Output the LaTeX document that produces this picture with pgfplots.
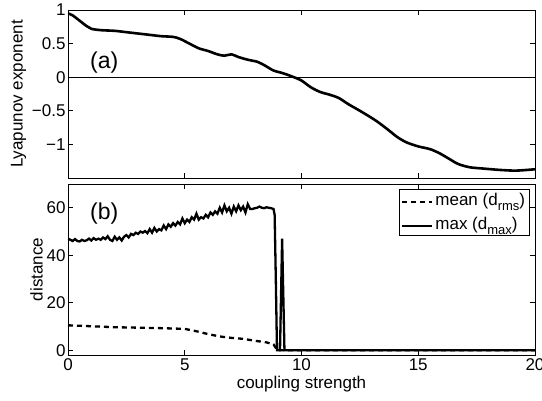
\documentclass[border=0pt]{standalone}
\usepackage{fontspec}
\setmainfont{Liberation Sans}
\usepackage{pgfplots}
\pgfplotsset{compat=1.18}

\pgfplotsset{
  panel/.style={
    scale only axis, width=467pt,
    xmin=0, xmax=20, xtick={0,5,10,15,20},
    tick align=inside, major tick length=5pt,
    axis line style={line width=0.9pt}, tick style={line width=0.6pt, black},
    tick label style={font=\fontsize{17}{19}\selectfont},
    label style={font=\fontsize{17}{19}\selectfont},
    /pgf/number format/assume math mode=true,
  },
}

\begin{document}
\begin{tikzpicture}
\useasboundingbox (-68pt,10pt) rectangle (474pt,-391pt);
\begin{axis}[panel, name=top, at={(0,0)}, anchor=north west,
  height=168pt, ymin=-1.5, ymax=1,
  xticklabels={},
  ytick={-1,-0.5,0,0.5,1},
  yticklabels={−1,−0.5,0,0.5,1},
  yticklabel style={xshift=1pt},
  ylabel={Lyapunov exponent},
  ylabel style={yshift=-1pt},
]
\addplot[black, line width=0.6pt] coordinates {(0,0)(20,0)};
\addplot[black, line width=2.6pt, smooth] coordinates {
(0,0.95)(0.2,0.92)(0.5,0.84)(0.8,0.76)(1.0,0.72)(1.4,0.70)(2.0,0.69)(2.5,0.67)
(3.0,0.65)(3.5,0.63)(4.0,0.61)(4.5,0.60)(4.8,0.57)(5.2,0.50)(5.6,0.43)(6.0,0.39)
(6.4,0.34)(6.7,0.32)(7.0,0.34)(7.3,0.30)(7.7,0.26)(8.1,0.23)(8.4,0.18)(8.8,0.10)
(9.2,0.06)(9.6,0.01)(10.0,-0.05)(10.4,-0.15)(10.8,-0.22)(11.2,-0.26)(11.6,-0.31)
(12.0,-0.40)(12.6,-0.52)(13.2,-0.65)(13.7,-0.78)(14.1,-0.89)(14.5,-0.97)(15.0,-1.03)
(15.5,-1.07)(15.9,-1.13)(16.3,-1.21)(16.7,-1.29)(17.2,-1.34)(17.8,-1.36)(18.5,-1.38)
(19.2,-1.39)(20,-1.37)};
\node[font=\fontsize{23}{25}\selectfont] at (axis cs:1.55,0.22) {(a)};
\end{axis}
\begin{axis}[panel, name=bot, at={(top.south west)}, anchor=north west, yshift=-6pt,
  height=171pt, ymin=-2, ymax=70,
  ytick={0,20,40,60},
  yticklabel style={xshift=1pt},
  xlabel={coupling strength}, ylabel={distance},
  xlabel style={yshift=1pt},
  ylabel style={yshift=-3pt},
  legend style={at={(0.988,0.97)}, anchor=north east, draw=black, line width=0.6pt,
    font=\fontsize{17}{19}\selectfont, inner sep=2pt, row sep=6pt},
  legend cell align=left,
  legend image code/.code={\draw[#1] (0pt,-2pt) -- (30pt,-2pt);},
]
\addplot[black, line width=2.3pt, dash pattern=on 5pt off 4pt] coordinates {
(0,10.5)(1,10.1)(2,9.7)(3,9.5)(4,9.3)(5,9.0)(5.5,8.0)(6,6.8)(6.5,5.8)(7,5.2)
(7.5,4.8)(8,4.0)(8.5,3.3)(8.8,2.5)(8.9,1)(8.95,0)(20,0)};
\addlegendentry{mean (d\raisebox{-0.5ex}{\fontsize{13}{14}\selectfont rms})}
\addplot[black, line width=2.3pt] coordinates {
(0.0,47)(0.1,46.5)(0.2,46)(0.3,46.8)(0.4,46)(0.5,45.8)(0.6,46.5)(0.7,46)(0.8,46.3)(0.9,47)
(1.0,46.2)(1.1,47.2)(1.2,46.5)(1.3,47)(1.4,46.5)(1.5,47.5)(1.6,46.8)(1.7,48)(1.8,46.5)(1.9,46)
(2.0,47.8)(2.1,46.5)(2.2,47.5)(2.3,46.2)(2.4,47.8)(2.5,48.5)(2.6,47.5)(2.7,49)(2.8,48.5)(2.9,49.5)
(3.0,49)(3.1,50)(3.2,49.5)(3.3,50.2)(3.4,49.3)(3.5,51)(3.6,49.5)(3.7,51.5)(3.8,50)(3.9,51)
(4.0,50.5)(4.1,52.5)(4.2,51)(4.3,53)(4.4,52)(4.5,53.5)(4.6,52.5)(4.7,54)(4.8,53)(4.9,55.5)
(5.0,53.5)(5.1,55)(5.2,54)(5.3,56)(5.4,55)(5.5,57.5)(5.6,55)(5.7,56)(5.8,55.5)(5.9,57)
(6.0,56)(6.1,58)(6.2,57)(6.3,58.5)(6.4,57.5)(6.5,60)(6.6,58)(6.7,61)(6.8,58.5)(6.9,60)
(7.0,57.5)(7.1,60.5)(7.2,58.5)(7.3,61)(7.4,59)(7.5,60.5)(7.6,58)(7.7,61.5)(7.8,59.5)(7.9,59.5)
(8.0,59.8)(8.1,60)(8.2,60.5)(8.3,60)(8.4,59.8)(8.5,60.2)(8.6,60)(8.7,59.8)(8.8,59.5)
(8.85,57)(8.9,30)(8.95,0)(9.08,0)(9.17,47)(9.27,0)(20,0)};
\addlegendentry{max (d\raisebox{-0.5ex}{\fontsize{13}{14}\selectfont max})}
\node[font=\fontsize{23}{25}\selectfont] at (axis cs:1.55,57.7) {(b)};
\end{axis}
\end{tikzpicture}
\end{document}
